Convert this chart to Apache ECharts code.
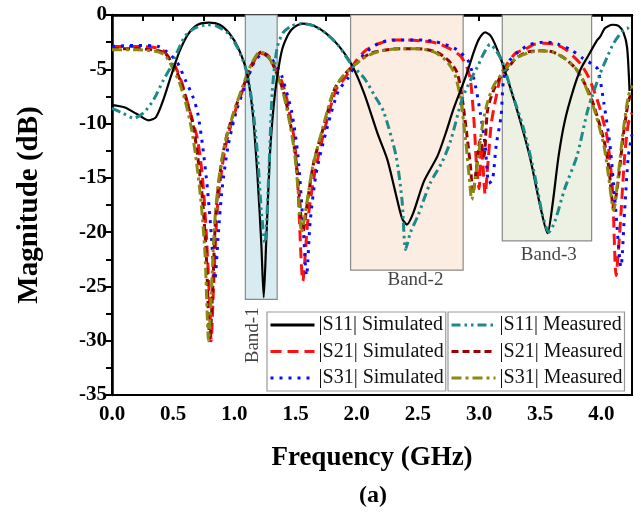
<!DOCTYPE html>
<html>
<head>
<meta charset="utf-8">
<script src="https://cdn.jsdelivr.net/npm/echarts@6/dist/echarts.min.js"></script>
<style>html,body{margin:0;padding:0;background:#fff;}#c{width:641px;height:512px;}</style>
</head>
<body>
<div id="c"></div>
<script>
// ---- data (frequency GHz, magnitude dB) ----
const s11Sim = [[0,-8.3],[0.1,-8.5],[0.2,-9.1],[0.3,-9.7],[0.36,-9.4],[0.42,-7.8],[0.48,-5.7],[0.55,-3.4],[0.62,-1.8],[0.7,-0.9],[0.79,-0.7],[0.88,-0.9],[0.96,-1.7],[1.03,-3.0],[1.1,-5.2],[1.15,-9],[1.19,-15],[1.22,-21],[1.24,-26],[1.26,-21],[1.29,-13],[1.32,-8.5],[1.35,-5.7],[1.39,-3.2],[1.44,-1.8],[1.48,-1.2],[1.56,-0.8],[1.65,-1.0],[1.75,-1.7],[1.85,-2.8],[1.96,-4.6],[2.06,-7.2],[2.17,-10.9],[2.25,-13.3],[2.32,-16.5],[2.37,-18.7],[2.41,-19.3],[2.46,-18.3],[2.55,-15.3],[2.66,-13.0],[2.73,-10.8],[2.79,-8.7],[2.89,-5.7],[2.96,-3.3],[3.0,-2.2],[3.05,-1.6],[3.1,-2.0],[3.17,-3.8],[3.25,-6.5],[3.34,-9.9],[3.42,-13.3],[3.5,-17.6],[3.56,-20.1],[3.6,-17.5],[3.65,-13.0],[3.7,-9.8],[3.77,-6.9],[3.83,-5.0],[3.89,-3.8],[3.96,-2.4],[3.99,-2.0],[4.03,-1.2],[4.09,-0.9],[4.14,-1.0],[4.18,-1.6],[4.21,-3.0],[4.23,-7]];
const s21Sim = [[0,-2.9],[0.2,-2.9],[0.35,-3.0],[0.42,-3.3],[0.47,-4.0],[0.52,-4.8],[0.57,-6.2],[0.61,-7.8],[0.66,-9.8],[0.7,-11.5],[0.74,-15],[0.77,-20],[0.8,-27],[0.81,-30],[0.83,-25],[0.86,-18],[0.9,-14],[0.94,-11.5],[1.02,-8.4],[1.1,-6.0],[1.15,-4.5],[1.21,-3.5],[1.27,-3.8],[1.34,-5.0],[1.39,-6.2],[1.43,-7.8],[1.49,-11.5],[1.52,-16],[1.56,-24.5],[1.6,-19],[1.65,-15],[1.73,-10.9],[1.83,-6.9],[1.91,-5.7],[1.99,-4.3],[2.08,-3.2],[2.19,-2.6],[2.3,-2.3],[2.41,-2.3],[2.55,-2.4],[2.66,-2.6],[2.76,-3.1],[2.85,-3.8],[2.9,-4.8],[2.93,-6],[2.96,-10],[2.98,-14],[3.0,-16],[3.02,-12],[3.05,-16.5],[3.07,-14],[3.1,-10],[3.14,-7.5],[3.18,-5.5],[3.23,-4.5],[3.3,-3.5],[3.37,-3.2],[3.45,-2.7],[3.53,-2.6],[3.62,-2.7],[3.7,-3.1],[3.77,-3.8],[3.83,-4.5],[3.89,-5.6],[3.94,-7],[3.99,-8.7],[4.05,-11.5],[4.09,-16],[4.12,-24],[4.15,-20],[4.19,-13],[4.22,-10],[4.25,-9]];
const s31Sim = [[0,-2.9],[0.2,-2.8],[0.38,-2.9],[0.45,-3.4],[0.53,-4.3],[0.6,-6],[0.66,-7.5],[0.7,-9],[0.74,-12],[0.78,-16],[0.81,-20],[0.84,-24.4],[0.87,-20],[0.9,-16],[0.95,-12],[1.02,-8.7],[1.1,-6.2],[1.16,-4.4],[1.23,-3.6],[1.3,-4.0],[1.36,-5.0],[1.39,-5.7],[1.47,-9],[1.52,-13],[1.56,-19],[1.59,-24],[1.62,-19],[1.67,-14.5],[1.76,-10.3],[1.85,-7],[1.93,-5.8],[2.0,-4.4],[2.1,-3.2],[2.2,-2.5],[2.35,-2.3],[2.5,-2.3],[2.62,-2.4],[2.72,-2.7],[2.82,-3.2],[2.88,-3.8],[2.92,-4.4],[2.97,-6.5],[3.01,-9],[3.05,-12],[3.08,-15.5],[3.11,-15.2],[3.14,-12],[3.18,-9.3],[3.2,-6],[3.25,-4.2],[3.32,-3.4],[3.42,-2.7],[3.55,-2.5],[3.65,-2.7],[3.75,-3.2],[3.85,-4.0],[3.92,-4.5],[3.97,-5.0],[4.02,-8.1],[4.07,-12],[4.11,-17],[4.16,-23.2],[4.19,-18],[4.22,-13],[4.25,-11]];
const s11Meas = [[0,-8.6],[0.08,-9.0],[0.18,-9.5],[0.26,-9.0],[0.34,-7.8],[0.42,-6.0],[0.49,-4.6],[0.53,-3.5],[0.6,-1.9],[0.68,-1.2],[0.78,-0.9],[0.85,-1.0],[0.95,-1.7],[1.03,-3.1],[1.1,-5.2],[1.15,-8.5],[1.19,-13],[1.22,-18],[1.25,-21],[1.28,-15],[1.31,-7],[1.35,-3.0],[1.4,-1.6],[1.47,-1.0],[1.55,-0.8],[1.65,-1.0],[1.75,-1.7],[1.85,-2.8],[1.96,-4.6],[2.06,-5.8],[2.15,-7.5],[2.22,-8.9],[2.32,-12.9],[2.37,-17],[2.4,-21.6],[2.44,-20],[2.5,-18.5],[2.6,-15.5],[2.7,-13.5],[2.77,-11.5],[2.86,-7.8],[2.93,-6.0],[2.99,-4.7],[3.04,-3.5],[3.09,-2.7],[3.14,-3.3],[3.19,-4.3],[3.27,-7.2],[3.36,-10.3],[3.45,-14.5],[3.52,-18.5],[3.57,-20.0],[3.62,-19],[3.7,-16],[3.8,-13],[3.89,-8.7],[3.99,-5.4],[4.05,-3.8],[4.1,-2.6],[4.17,-1.5],[4.21,-1.2],[4.24,-1.5]];
const s21Meas = [[0,-3.1],[0.2,-3.1],[0.38,-3.3],[0.44,-3.6],[0.5,-4.6],[0.55,-5.8],[0.6,-7.5],[0.66,-10],[0.7,-13],[0.74,-17],[0.77,-22],[0.8,-30],[0.82,-26],[0.85,-18],[0.89,-14],[0.94,-11],[1.02,-8.2],[1.1,-5.8],[1.15,-4.4],[1.22,-3.4],[1.28,-3.8],[1.34,-5.2],[1.4,-7],[1.45,-9.5],[1.5,-13],[1.53,-16.5],[1.56,-20],[1.6,-17],[1.65,-13.5],[1.73,-10.3],[1.82,-6.8],[1.9,-5.5],[1.98,-4.6],[2.1,-3.6],[2.2,-3.3],[2.35,-3.1],[2.5,-3.1],[2.65,-3.4],[2.75,-4.2],[2.82,-5.3],[2.86,-7.5],[2.9,-11],[2.93,-14],[2.95,-16.4],[2.98,-14],[3.01,-11.5],[3.04,-13],[3.07,-8.7],[3.12,-6.9],[3.18,-5.6],[3.23,-5.0],[3.3,-4.0],[3.4,-3.4],[3.5,-3.3],[3.6,-3.4],[3.7,-4.0],[3.78,-4.8],[3.83,-5.6],[3.9,-7.2],[3.94,-8.4],[4.02,-11.5],[4.06,-14],[4.1,-17.8],[4.14,-15],[4.18,-11],[4.22,-8],[4.25,-7]];
const s31Meas = [[0,-3.2],[0.2,-3.2],[0.38,-3.4],[0.44,-3.8],[0.5,-5.0],[0.55,-6.2],[0.6,-8],[0.65,-10.5],[0.69,-13.5],[0.73,-17.5],[0.76,-22],[0.79,-30],[0.81,-26],[0.84,-19],[0.88,-14.5],[0.93,-11.5],[1.0,-8.8],[1.08,-6.2],[1.14,-4.5],[1.21,-3.4],[1.27,-3.7],[1.33,-5.0],[1.39,-6.8],[1.44,-9.2],[1.49,-12.5],[1.52,-16],[1.55,-20],[1.59,-17.5],[1.64,-14],[1.72,-10.5],[1.81,-7],[1.89,-5.6],[1.97,-4.7],[2.08,-3.8],[2.2,-3.3],[2.35,-3.1],[2.5,-3.1],[2.63,-3.4],[2.73,-4.2],[2.8,-5.4],[2.85,-7.8],[2.89,-11.5],[2.92,-15],[2.94,-17],[2.97,-15],[3.0,-12.5],[3.03,-10],[3.07,-8],[3.12,-6.5],[3.2,-5.2],[3.3,-4.0],[3.4,-3.5],[3.5,-3.3],[3.6,-3.4],[3.7,-4.0],[3.78,-4.8],[3.84,-5.8],[3.9,-7.4],[3.95,-9],[4.02,-12],[4.06,-15],[4.1,-18],[4.14,-14.5],[4.18,-10.5],[4.22,-7.5],[4.25,-6.5]];

// bands: [fromGHz, toGHz, bottom dB]
const bandNames = ['Band-1', 'Band-2', 'Band-3'];
const bandFrom = [1.09, 1.95, 3.19];
const bandTo = [1.35, 2.87, 3.92];
const bandBottom = [-26.2, -23.5, -20.8];
const bandColors = ['#d8ebf1', '#fcede2', '#edf1e3'];
// band label anchor positions (GHz, dB) and rotation
const bandLabelX = [1.15, 2.48, 3.57];
const bandLabelY = [-29.5, -24.4, -22.1];
const bandLabelRot = [90, 0, 0];

const xTicks = { min: 0, max: 4.25, step: 0.25 };
const yTicks = { min: -35, max: 0, step: 5 };

const seriesNames = ['|S11| Simulated','|S21| Simulated','|S31| Simulated','|S11| Measured','|S21| Measured','|S31| Measured'];

const FONT = '"Liberation Serif", "Times New Roman", serif';
const chart = echarts.init(document.getElementById('c'), null, { renderer: 'canvas' });

function line(name, data, color, width, type, z) {
  return {
    name, type: 'line', data, symbol: 'none', smooth: 0.25, z: z || 3,
    lineStyle: { color, width, type, cap: 'butt' },
    itemStyle: { color }
  };
}

const bandSeries = {
  name: 'bands', type: 'line', data: [], silent: true, z: 1,
  markArea: {
    silent: true,
    data: bandNames.map((n, i) => [
      { xAxis: bandFrom[i], yAxis: 0, itemStyle: { color: bandColors[i], borderColor: '#8a8a8a', borderWidth: 1.2 } },
      { xAxis: bandTo[i], yAxis: bandBottom[i] }
    ]),
    label: { show: false }
  }
};

const labelSeries = {
  name: 'bandLabels', type: 'scatter', symbolSize: 0, silent: true, z: 2,
  data: bandNames.map((n, i) => ({
    name: n, value: [bandLabelX[i], bandLabelY[i]],
    label: { show: true, position: 'inside', formatter: n, rotate: bandLabelRot[i],
      fontFamily: FONT, fontSize: 19, color: '#111' }
  }))
};

const legendCommon = {
  orient: 'vertical', top: 312, itemWidth: 44, itemHeight: 18, itemGap: 6.5,
  padding: [3, 2, 3, 2], borderColor: '#999', borderWidth: 1.2, backgroundColor: '#fff',
  textStyle: { fontFamily: FONT, fontSize: 20, color: '#111', padding: [0, 0, 0, -1] },
  lineStyle: { width: 3 },
  itemStyle: { opacity: 0, borderWidth: 0 },
  z: 10
};

const option = {
  animation: false,
  backgroundColor: '#fff',
  grid: { left: 112, right: 9, top: 15, bottom: 117, show: true, borderColor: '#000', borderWidth: 2, backgroundColor: 'transparent' },
  title: { text: '(a)', left: 368, top: 479, textAlign: 'center',
    textStyle: { fontFamily: FONT, fontWeight: 'bold', fontSize: 24, color: '#000' } },
  legend: [
    Object.assign({}, legendCommon, { data: seriesNames.slice(0, 3), left: 267 }),
    Object.assign({}, legendCommon, { data: seriesNames.slice(3), left: 448 })
  ],
  xAxis: {
    type: 'value', min: xTicks.min, max: xTicks.max, interval: xTicks.step,
    name: 'Frequency (GHz)', nameLocation: 'middle', nameGap: 50,
    nameTextStyle: { fontFamily: FONT, fontWeight: 'bold', fontSize: 27, color: '#000' },
    axisLine: { lineStyle: { color: '#000', width: 2.5 } },
    axisTick: { show: true, length: 6, lineStyle: { color: '#000', width: 2 } },
    axisLabel: { fontFamily: FONT, fontWeight: 'bold', fontSize: 21, color: '#000', margin: 9,
      showMaxLabel: false,
      formatter: v => (Math.abs(v * 2 - Math.round(v * 2)) < 1e-6 ? v.toFixed(1) : '') },
    splitLine: { show: false }
  },
  yAxis: {
    type: 'value', min: yTicks.min, max: yTicks.max, interval: yTicks.step,
    name: 'Magnitude (dB)', nameLocation: 'middle', nameGap: 68,
    nameTextStyle: { fontFamily: FONT, fontWeight: 'bold', fontSize: 29, color: '#000' },
    axisLine: { lineStyle: { color: '#000', width: 2.5 } },
    axisTick: { show: true, length: 6, lineStyle: { color: '#000', width: 2 } },
    minorTick: { show: true, splitNumber: 2, length: 6, lineStyle: { color: '#000', width: 2 } },
    axisLabel: { fontFamily: FONT, fontWeight: 'bold', fontSize: 21, color: '#000', margin: 5 },
    splitLine: { show: false }
  },
  series: [
    bandSeries,
    labelSeries,
    line(seriesNames[1], s21Sim, '#ff1111', 3, [11, 6], 3),
    line(seriesNames[2], s31Sim, '#0a0aff', 3, [3, 6], 3),
    line(seriesNames[4], s21Meas, '#9a0000', 3, [7, 4], 4),
    line(seriesNames[5], s31Meas, '#8a8a10', 3, [10, 4, 3, 4], 4),
    line(seriesNames[0], s11Sim, '#000000', 2.2, 'solid', 5),
    line(seriesNames[3], s11Meas, '#1c8a88', 3, [9, 4, 2.5, 4, 2.5, 4], 6)
  ]
};
chart.setOption(option);
</script>
</body>
</html>
